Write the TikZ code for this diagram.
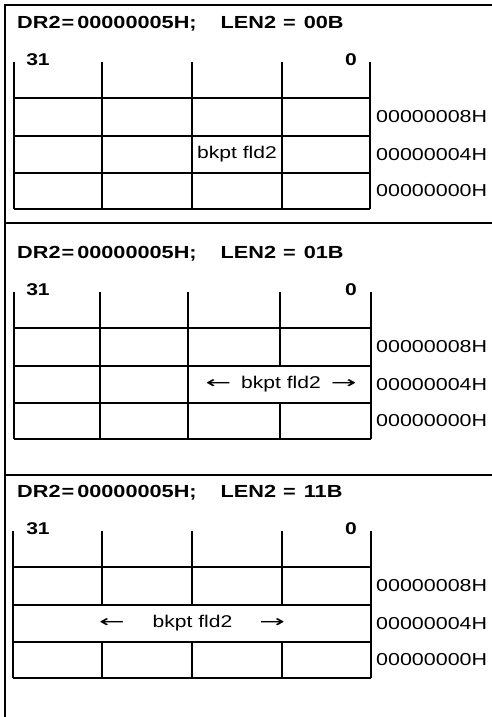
\documentclass[tikz,border=0pt]{standalone}
\usepackage{graphicx}
\usepackage{fontspec}
\setmainfont{Liberation Sans}[FakeStretch=1.24]
\newfontfamily\arrowfont{DejaVu Sans}
\tikzset{
  gridline/.style={line width=1.1pt},
  frameline/.style={line width=1.4pt},
  addr/.style={anchor=west, font=\fontsize{17.3}{19}\selectfont, inner sep=0pt},
  ttl/.style={anchor=west, font=\fontsize{17.5}{19}\selectfont\bfseries, inner sep=0pt},
  bitno/.style={font=\fontsize{17}{19}\selectfont\bfseries, inner sep=0pt},
  fld/.style={font=\fontsize{17}{19}\selectfont, inner sep=0pt},
}
\newcommand\larr{\scalebox{1.8}[1]{\arrowfont ←}}
\newcommand\rarr{\scalebox{1.8}[1]{\arrowfont →}}
% #1 name, #2 y offset, #3 title, #4..#8 column x positions
\newcommand\regpanel[8]{%
  \node[ttl] (#1t) at (17,{#2+24}) {#3};
  \node[bitno] (#1a) at (38,{#2+60}) {31};
  \node[bitno] (#1b) at (351,{#2+60}) {0};
  \foreach \yy in {98,136,173,209}{\draw[gridline] ({#4},{#2+\yy}) -- ({#8},{#2+\yy});}
  \draw[gridline] ({#4},{#2+62}) -- ({#4},{#2+209});
  \draw[gridline] ({#8},{#2+62}) -- ({#8},{#2+209});
  \foreach \xx in {#5,#6,#7}{%
    \draw[gridline] (\xx,{#2+62}) -- (\xx,{#2+136});
    \draw[gridline] (\xx,{#2+173}) -- (\xx,{#2+209});}
  \node[addr] (#1r) at (376,{#2+117}) {00000008H};
  \node[addr] (#1s) at (376,{#2+154.5}) {00000004H};
  \node[addr] (#1u) at (376,{#2+191}) {00000000H};
}
\newcommand\ttltext[1]{DR2\hspace{1pt}=\hspace{3pt}00000005H;\hspace{24pt}LEN2\hspace{7pt}=\hspace{8pt}#1}
\begin{document}
\begin{tikzpicture}[x=1pt,y=-1pt]
\useasboundingbox (0,0) rectangle (492,717);
% frame
\draw[frameline] (492,5) -- (5,5) -- (5,717);
\draw[frameline] (5,223) -- (492,223);
\draw[frameline] (5,475) -- (492,475);
% panel 1
\regpanel{p}{0}{\ttltext{00B}}{14}{102}{192}{282}{370}
\foreach \xx in {102,192,282}{\draw[gridline] (\xx,136) -- (\xx,173);}
\node[fld] (pf) at (237,154.5) {bkpt fld2};
% panel 2
\regpanel{q}{230}{\ttltext{01B}}{14}{100}{188}{280}{371}
\foreach \xx in {100,188}{\draw[gridline] (\xx,366) -- (\xx,403);}
\node[fld] (qf) at (281,384.5) {\larr\hspace{10pt}bkpt fld2\hspace{10pt}\rarr};
% panel 3
\regpanel{w}{469}{\ttltext{11B}}{13}{102}{192}{282}{371}
\node[fld] (wf) at (192,623.5) {\larr\hspace{28pt}bkpt fld2\hspace{27pt}\rarr};
\end{tikzpicture}
\end{document}
